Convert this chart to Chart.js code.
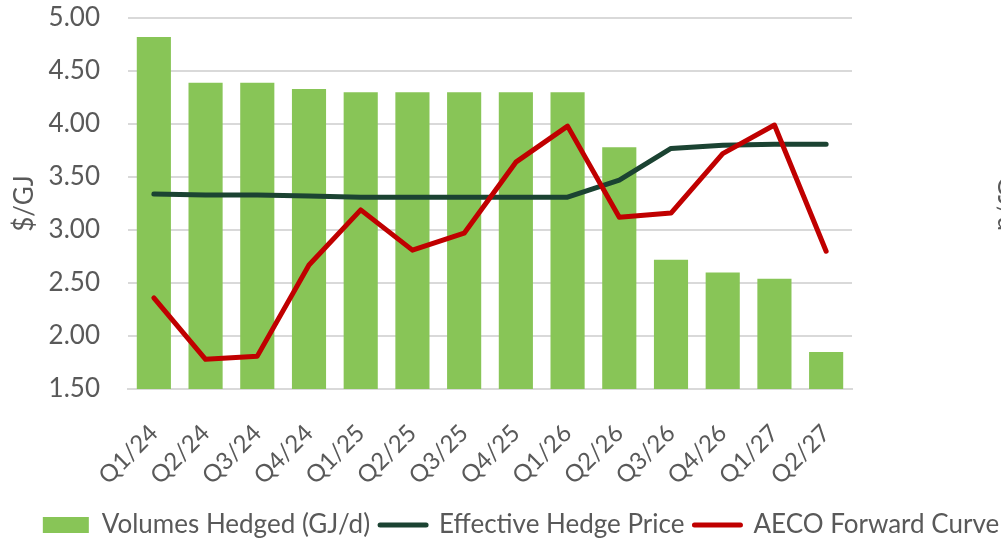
<!DOCTYPE html>
<html>
<head>
<meta charset="utf-8">
<script src="https://cdn.jsdelivr.net/npm/chart.js@4"></script>
<style>
  html, body { margin: 0; padding: 0; background: #fff; overflow: hidden; }
  #wrap { width: 1042px; height: 540px; }
</style>
</head>
<body>
<div id="wrap"><canvas id="myChart" width="1042" height="540"></canvas></div>
<script>
const quarters = ['Q1/24', 'Q2/24', 'Q3/24', 'Q4/24', 'Q1/25', 'Q2/25', 'Q3/25',
  'Q4/25', 'Q1/26', 'Q2/26', 'Q3/26', 'Q4/26', 'Q1/27', 'Q2/27'];
// bar heights read against the visible $/GJ grid (volume axis is cropped off)
const volumesHedged = [4.82, 4.39, 4.39, 4.33, 4.30, 4.30, 4.30, 4.30, 4.30, 3.78, 2.72, 2.60, 2.54, 1.85];
const hedgePrice = [3.34, 3.33, 3.33, 3.32, 3.31, 3.31, 3.31, 3.31, 3.31, 3.47, 3.77, 3.80, 3.81, 3.81];
const aecoCurve = [2.36, 1.78, 1.81, 2.67, 3.19, 2.81, 2.97, 3.64, 3.98, 3.12, 3.16, 3.72, 3.99, 2.80];
const priceTicks = [1.5, 2.0, 2.5, 3.0, 3.5, 4.0, 4.5, 5.0];

const grey = '#595959';
const gridGrey = '#d9d9d9';
const fontFamily = 'Lato, "Open Sans", sans-serif';

let newChart = new Chart(document.getElementById('myChart').getContext('2d'), {
  data: {
    labels: quarters,
    datasets: [
      {
        type: 'bar',
        label: 'Volumes Hedged (GJ/d)',
        data: volumesHedged,
        yAxisID: 'y2',
        backgroundColor: '#88c557',
        borderWidth: 0,
        barPercentage: 0.66,
        categoryPercentage: 1,
        order: 3
      },
      {
        type: 'line',
        label: 'Effective Hedge Price',
        data: hedgePrice,
        yAxisID: 'y',
        borderColor: '#1b4332',
        borderWidth: 5,
        borderCapStyle: 'round',
        borderJoinStyle: 'round',
        pointRadius: 0,
        tension: 0,
        order: 2
      },
      {
        type: 'line',
        label: 'AECO Forward Curve',
        data: aecoCurve,
        yAxisID: 'y',
        borderColor: '#c00000',
        borderWidth: 5,
        borderCapStyle: 'round',
        borderJoinStyle: 'round',
        pointRadius: 0,
        tension: 0,
        order: 1
      }
    ]
  },
  options: {
    responsive: false,
    animation: false,
    layout: { padding: { top: 18, left: 0, right: 0, bottom: -8 } },
    plugins: {
      tooltip: { enabled: false },
      legend: {
        position: 'bottom',
        labels: {
          font: { family: fontFamily, size: 26 },
          color: grey,
          usePointStyle: true,
          pointStyleWidth: 46,
          boxHeight: 16,
          padding: 10,
          generateLabels: (chart) => chart.data.datasets.map((ds, i) => ({
            text: ds.label,
            datasetIndex: i,
            fillStyle: ds.type === 'bar' ? ds.backgroundColor : ds.borderColor,
            strokeStyle: ds.type === 'bar' ? ds.backgroundColor : ds.borderColor,
            lineWidth: ds.type === 'bar' ? 0 : 5,
            lineCap: 'round',
            pointStyle: ds.type === 'bar' ? 'rect' : 'line',
            fontColor: grey,
            hidden: false
          }))
        }
      }
    },
    scales: {
      x: {
        grid: { display: false },
        border: { color: gridGrey, width: 2 },
        ticks: {
          color: grey,
          font: { family: fontFamily, size: 24 },
          maxRotation: 45,
          minRotation: 45,
          padding: 22
        },
        afterFit: (scale) => { scale.height = 113; }
      },
      y: {
        position: 'left',
        min: 1.5,
        max: 5,
        afterBuildTicks: (scale) => { scale.ticks = priceTicks.map(v => ({ value: v })); },
        grid: { color: gridGrey, lineWidth: 2, drawTicks: true, tickLength: 26, tickColor: 'transparent' },
        border: { display: false },
        ticks: {
          color: grey,
          font: { family: fontFamily, size: 26 },
          padding: 2,
          callback: (v) => Number(v).toFixed(2)
        },
        title: {
          display: true,
          text: '$/GJ',
          color: grey,
          font: { family: fontFamily, size: 26 },
          padding: { top: 9, bottom: 0 }
        },
        afterFit: (scale) => { scale.width = 128; }
      },
      y2: {
        position: 'right',
        min: 1.5,
        max: 5,
        grid: { display: false },
        border: { display: false },
        ticks: { display: false },
        title: {
          display: true,
          text: 'GJ/d',
          color: grey,
          font: { family: fontFamily, size: 26 },
          padding: { top: 20, bottom: 0 }
        },
        afterFit: (scale) => { scale.width = 190; }
      }
    }
  }
});
</script>
</body>
</html>
